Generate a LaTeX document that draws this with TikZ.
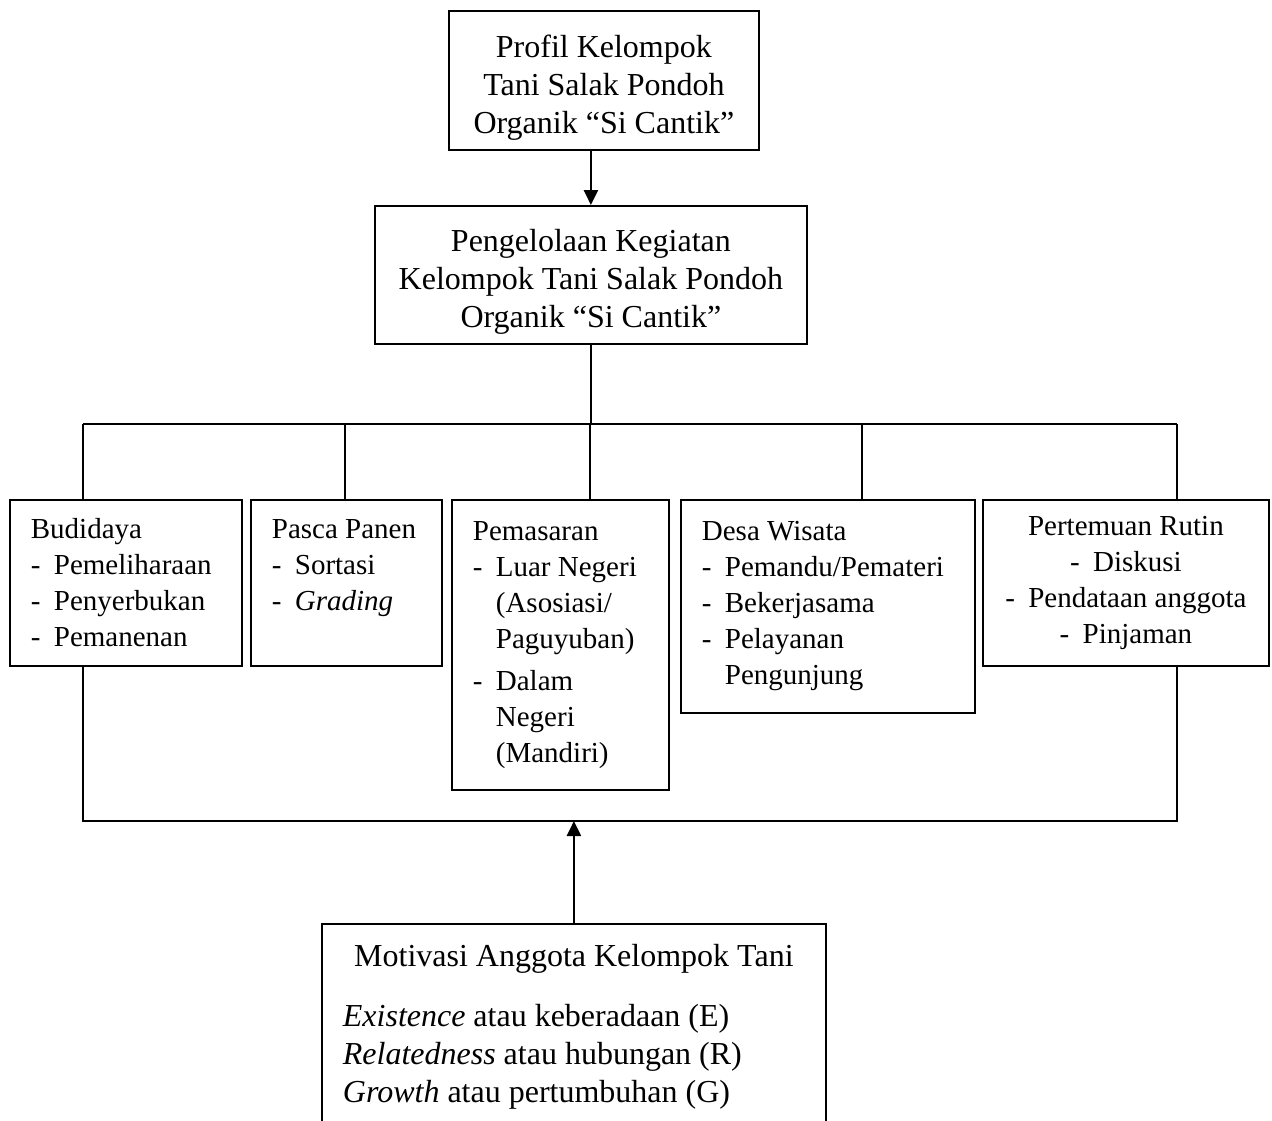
\documentclass[tikz,border=0pt]{standalone}
\usepackage{fontspec}
\setmainfont{Liberation Serif}
\usetikzlibrary{arrows.meta}
\newcommand{\butir}[1]{\makebox[23pt][l]{-}#1}
\newcommand{\lanjut}{\hspace*{23pt}}
\newcommand{\turun}{\rule{0pt}{37pt}}
\tikzset{
	kotak/.style={draw,line width=1.8pt,rectangle,anchor=north west,inner xsep=21pt,inner ysep=0pt},
	kotakkiri/.style={kotak,align=flush left},
	besar/.style={font=\fontsize{32}{38}\selectfont},
	garis/.style={line width=1.6pt},
}
\begin{document}
\begin{tikzpicture}[x=1pt,y=-1pt,>={Triangle[length=15pt,width=14pt]},font=\fontsize{29}{36}\selectfont]
	\useasboundingbox (0,0) rectangle (1272,1120);
	% atas
	\node[kotak,besar,align=center,minimum width=310pt,minimum height=139pt] (profil) at (448,10) {\turun Profil Kelompok\\Tani Salak Pondoh\\Organik “Si Cantik”};
	\node[kotak,besar,align=center,minimum width=432pt,minimum height=138pt] (kelola) at (374,205) {\turun Pengelolaan Kegiatan\\Kelompok Tani Salak Pondoh\\Organik “Si Cantik”};
	\draw[->,line width=2.4pt] (profil.south -| kelola.north) -- (kelola.north);
	% kegiatan
	\node[kotakkiri,text width=190pt,minimum height=166pt] (budidaya) at (9,499) {Budidaya\\\butir{Pemeliharaan}\\\butir{Penyerbukan}\\\butir{Pemanenan}};
	\node[kotakkiri,text width=149pt,minimum height=166pt] (pasca) at (250,499) {Pasca Panen\\\butir{Sortasi}\\\butir{\textit{Grading}}\\\phantom{Pemanenan}};
	\node[kotakkiri,text width=175pt,minimum height=290pt] (pemasaran) at (451,499) {Pemasaran\\\butir{Luar Negeri}\\\lanjut(Asosiasi/\\\lanjut Paguyuban)\\[6pt]\butir{Dalam}\\\lanjut Negeri\\\lanjut(Mandiri)};
	\node[kotakkiri,text width=252pt,minimum height=213pt] (desa) at (680,499) {Desa Wisata\\\butir{Pemandu/Pemateri}\\\butir{Bekerjasama}\\\butir{Pelayanan}\\\lanjut Pengunjung};
	\node[kotak,align=flush center,minimum width=286pt,minimum height=166pt] (rutin) at (982,499) {Pertemuan Rutin\\\butir{Diskusi}\\\butir{Pendataan anggota}\\\butir{Pinjaman}};
	% cabang
	\foreach \nama/\x in {budidaya/83,pasca/345,pemasaran/590,desa/862,rutin/1177}{
		\coordinate (c-\nama) at (\x,424);
		\draw[garis] (c-\nama) -- (\nama.north -| c-\nama);
	}
	\draw[garis] (c-budidaya) -- (c-rutin);
	\draw[garis] (kelola.south) -- (kelola.south |- c-pemasaran);
	\coordinate (bawahki) at (83,821);
	\coordinate (bawahka) at (1177,821);
	\draw[garis] (budidaya.south -| bawahki) -- (bawahki) -- (bawahka) -- (rutin.south -| bawahka);
	% motivasi
	\node[kotak,besar,align=flush left,text width=462pt,minimum height=206pt] (motivasi) at (321,923) {{\centering Motivasi Anggota Kelompok Tani\par}\vspace{22pt}\textit{Existence} atau keberadaan (E)\\\textit{Relatedness} atau hubungan (R)\\\textit{Growth} atau pertumbuhan (G)};
	\draw[->,line width=2.4pt] (motivasi.north) -- (motivasi.north |- bawahki);
\end{tikzpicture}
\end{document}
